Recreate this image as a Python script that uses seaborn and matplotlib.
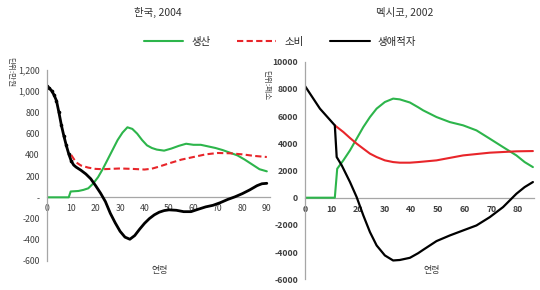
import numpy as np
import pandas as pd
import matplotlib
matplotlib.use("Agg")
import matplotlib.pyplot as plt
from matplotlib.lines import Line2D
from matplotlib.ticker import MultipleLocator
import seaborn as sns

# ---------------- data ----------------
# Korea 2004 (unit: 10,000 won)
kr_prod_age = [0, 9, 9.8, 13, 15, 17, 19, 21, 23, 25, 27, 29, 31, 33, 35, 37, 39, 41, 43, 45, 48, 51, 54, 57, 60, 63, 66, 69, 72, 75, 78, 81, 84, 87, 90]
kr_prod = [0, 0, 55, 60, 70, 85, 130, 190, 270, 360, 450, 540, 610, 660, 645, 600, 540, 490, 465, 450, 440, 460, 485, 505, 495, 495, 480, 465, 445, 420, 395, 355, 310, 265, 245]

kr_cons_age = [10, 12, 14, 17, 20, 23, 26, 30, 35, 40, 43, 46, 50, 55, 60, 65, 70, 75, 80, 85, 90]
kr_cons = [400, 330, 300, 280, 268, 265, 268, 272, 268, 262, 270, 290, 320, 355, 380, 405, 418, 415, 405, 390, 380]

kr_lcd_age = [0, 1, 2, 3, 4, 5, 6, 7, 8, 9, 10, 11, 12, 14, 16, 18, 20, 22, 24, 26, 28, 30, 32, 34, 36, 38, 40, 42, 44, 46, 48, 50, 53, 56, 59, 62, 65, 68, 71, 74, 77, 80, 83, 86, 88, 90]
kr_lcd = [1050, 1030, 1005, 965, 910, 800, 680, 580, 490, 410, 345, 305, 285, 255, 220, 175, 110, 40, -40, -150, -240, -320, -375, -395, -360, -300, -245, -200, -165, -140, -125, -118, -122, -135, -135, -112, -90, -75, -50, -20, 5, 35, 70, 110, 128, 132]

# Mexico 2002 (unit: peso)
mx_prod_age = [0, 11.2, 12.1, 14.4, 16.9, 19.4, 21.9, 24.4, 26.9, 30, 33.1, 35.6, 39.4, 42.5, 44.4, 49.4, 54.4, 59.4, 64.4, 69.4, 74.4, 79.4, 82.5, 85.6]
mx_prod = [0, 0, 2130, 2745, 3480, 4340, 5195, 5930, 6550, 7035, 7285, 7230, 7000, 6650, 6420, 5930, 5560, 5320, 4950, 4340, 3720, 3110, 2620, 2250]

mx_cons_age = [11.2, 14.4, 16.9, 19.4, 21.9, 24.4, 26.9, 30, 33.1, 35.6, 39.4, 42.5, 49.4, 59.4, 69.4, 79.4, 85.6]
mx_cons = [5320, 4830, 4390, 3975, 3605, 3240, 2990, 2745, 2620, 2575, 2575, 2620, 2745, 3110, 3310, 3410, 3430]

mx_lcd_age = [0, 5.6, 11.2, 11.9, 13.8, 16.9, 19.4, 21.9, 24.4, 26.9, 30, 33.1, 35.6, 39.4, 42.5, 44.4, 49.4, 54.4, 59.4, 64.4, 69.4, 74.4, 79.4, 82.5, 85.6]
mx_lcd = [8210, 6550, 5320, 2990, 2377, 1150, 45, -1300, -2530, -3510, -4245, -4615, -4580, -4420, -4080, -3830, -3190, -2775, -2406, -2040, -1430, -690, 290, 780, 1150]

legend_labels = ["생산", "소비", "생애적자"]
titles = ["한국, 2004", "멕시코, 2002"]
ylabels = ["단위:만원", "단위:페소"]
xlabel = "연령"

# ---------------- style ----------------
sns.set_style("white")
plt.rcParams["font.family"] = ["Noto Sans CJK KR", "DejaVu Sans"]

GREEN = "#2DB54B"
RED = "#E8252A"
BLACK = "#000000"
GRAY = "#A6A6A6"

fig = plt.figure(figsize=(5.4, 2.9), dpi=100)
axL = fig.add_axes([46.7 / 540, 1 - 261 / 290, (270 - 46.7) / 540, (261 - 70) / 290])
axR = fig.add_axes([305 / 540, 1 - 279.3 / 290, (534.5 - 305) / 540, (279.3 - 61.7) / 290])


def draw(ax, pa, p, ca, c, la, l, korea):
    sns.lineplot(x=pa, y=p, ax=ax, color=GREEN, lw=1.5, estimator=None, sort=False)
    sns.lineplot(x=ca, y=c, ax=ax, color=RED, lw=1.5, estimator=None, sort=False,
                 linestyle=(0, (3, 1.6)) if korea else "-")
    if korea:
        sns.lineplot(x=la, y=l, ax=ax, color=BLACK, lw=2.0, estimator=None, sort=False,
                     marker="o", markersize=2.6, markeredgewidth=0,
                     markevery=list(range(0, 11)))
    else:
        sns.lineplot(x=la, y=l, ax=ax, color=BLACK, lw=1.6, estimator=None, sort=False)


draw(axL, kr_prod_age, kr_prod, kr_cons_age, kr_cons, kr_lcd_age, kr_lcd, True)
draw(axR, mx_prod_age, mx_prod, mx_cons_age, mx_cons, mx_lcd_age, mx_lcd, False)


def fmt_kr(v):
    if v == 0:
        return "-"
    return f"{int(v):,}"


for ax, ylim, yt, xlim, xt, bold, fmt in [
    (axL, (-600, 1200), np.arange(-600, 1201, 200), (0, 91.3), np.arange(0, 91, 10), False, fmt_kr),
    (axR, (-6000, 10000), np.arange(-6000, 10001, 2000), (0, 86.2), np.arange(0, 81, 10), True, lambda v: f"{int(v)}"),
]:
    ax.set_xlim(*xlim)
    ax.set_ylim(*ylim)
    for s in ["top", "right"]:
        ax.spines[s].set_visible(False)
    ax.spines["left"].set_color(GRAY)
    ax.spines["left"].set_linewidth(0.9)
    ax.spines["bottom"].set_position(("data", 0))
    ax.spines["bottom"].set_color(GRAY)
    ax.spines["bottom"].set_linewidth(0.9)
    ax.spines["bottom"].set_zorder(0.5)
    ax.set_yticks(yt)
    ax.set_yticklabels([fmt(v) for v in yt], fontsize=6.3,
                       fontweight="bold" if bold else "normal", color="#404040")
    ax.set_xticks(xt)
    ax.set_xticklabels([str(v) for v in xt], fontsize=6.3,
                       fontweight="bold" if bold else "normal", color="#404040")
    ax.xaxis.set_minor_locator(MultipleLocator(1))
    ax.tick_params(axis="y", which="major", direction="out", length=3, width=0.8, color=GRAY, pad=2)
    ax.tick_params(axis="x", which="major", direction="out", length=4, width=0.8, color=GRAY, pad=1)
    ax.tick_params(axis="x", which="minor", direction="out", length=3, width=0.6, color=GRAY)
    ax.set_xlabel("")
    ax.set_ylabel("")
    ax.grid(False)
    ax.patch.set_alpha(0)

# titles
fig.text(158 / 540, 1 - 12 / 290, titles[0], ha="center", va="center", fontsize=7.5, color="#333333")
fig.text(405 / 540, 1 - 12 / 290, titles[1], ha="center", va="center", fontsize=7.5, color="#333333")

# axis labels
fig.text(10 / 540, 1 - 72 / 290, ylabels[0], ha="center", va="center", rotation=270, fontsize=5.5, color="#404040")
fig.text(266 / 540, 1 - 85 / 290, ylabels[1], ha="center", va="center", rotation=270, fontsize=5.5, color="#404040")
fig.text(160 / 540, 1 - 270 / 290, xlabel, ha="center", va="center", fontsize=6.5, color="#404040")
fig.text(432 / 540, 1 - 271 / 290, xlabel, ha="center", va="center", fontsize=6.5, color="#404040")

# legend
handles = [
    Line2D([], [], color=GREEN, lw=1.5),
    Line2D([], [], color=RED, lw=1.5, linestyle=(0, (3, 1.6))),
    Line2D([], [], color=BLACK, lw=1.5),
]
fig.legend(handles, legend_labels, loc="center", bbox_to_anchor=(280 / 540, 1 - 42 / 290),
           ncol=3, frameon=False, fontsize=7.5, handlelength=3.8, columnspacing=2.5,
           handletextpad=0.8)

fig.savefig("out.png", dpi=100)
